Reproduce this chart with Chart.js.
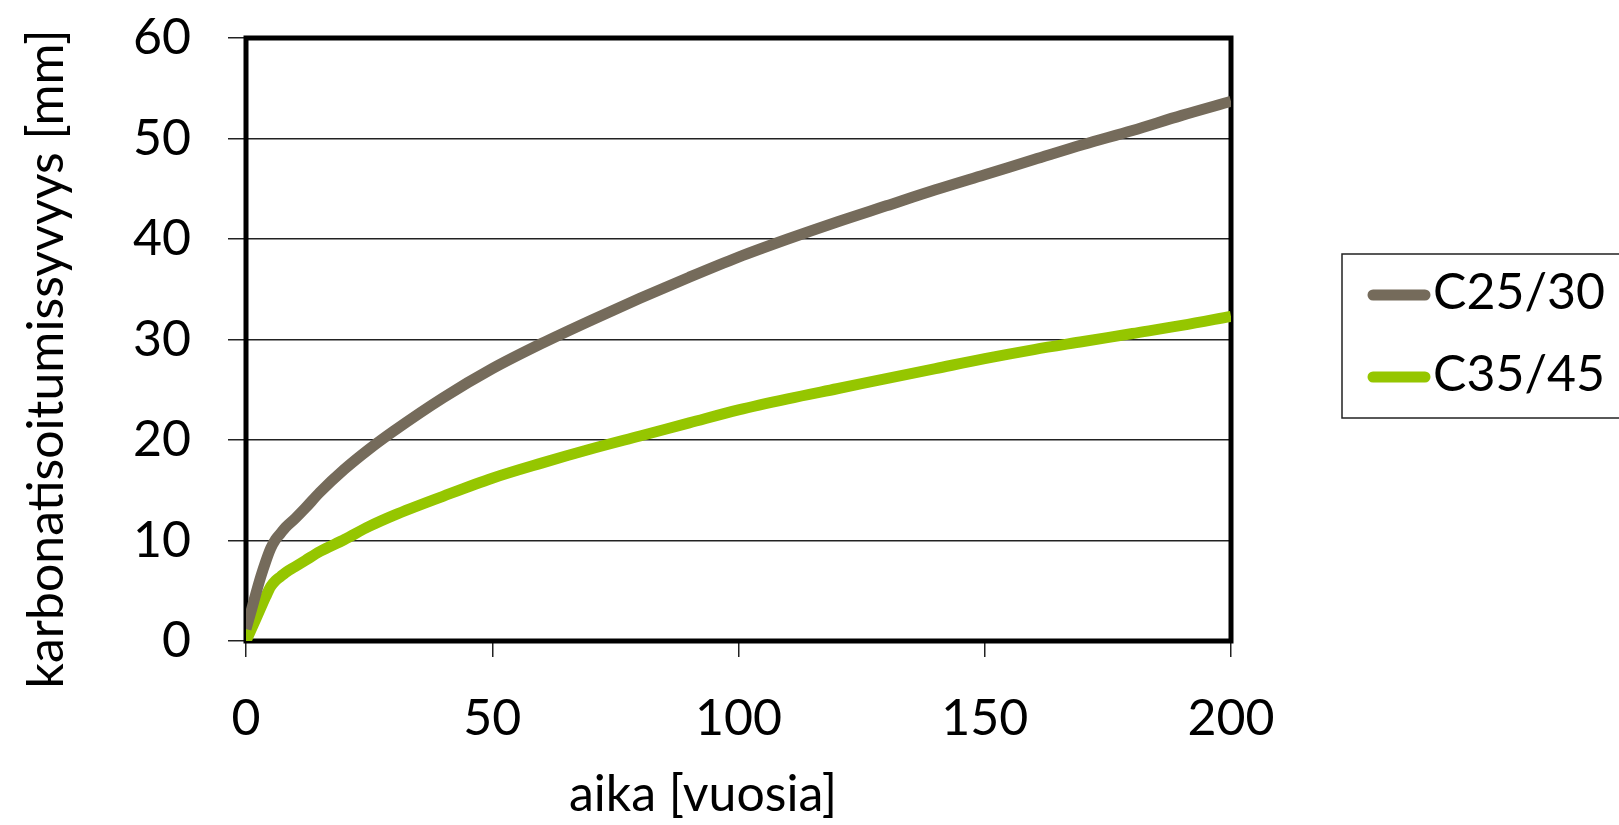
<!DOCTYPE html>
<html>
<head>
<meta charset="utf-8">
<script src="https://cdn.jsdelivr.net/npm/chart.js@4"></script>
<style>
    html, body { margin: 0; padding: 0; background: #fff; }
    canvas { display: block; }
</style>
</head>
<body>
<canvas id="carbChart" width="1619" height="825"></canvas>
<script>
// aika [vuosia]
const years = [0, 1, 2, 3, 4, 5, 6, 7, 8, 10, 12, 15, 20, 25, 30, 40, 50, 60, 70, 80, 90,
    100, 110, 120, 130, 140, 150, 160, 170, 180, 190, 200];

// karbonatisoitumissyvyys [mm]
const c2530 = [1.2, 2.9, 4.7, 6.4, 7.9, 9.2, 10.1, 10.7, 11.3, 12.2, 13.2, 14.8, 17.1, 19.1, 20.9,
    24.2, 27.1, 29.6, 31.9, 34.1, 36.2, 38.2, 40.0, 41.7, 43.3, 44.9, 46.4, 47.9, 49.4, 50.8, 52.3, 53.7];
const c3545 = [0.0, 1.1, 2.2, 3.3, 4.4, 5.4, 6.0, 6.4, 6.8, 7.4, 8.0, 8.9, 10.1, 11.4, 12.5,
    14.4, 16.2, 17.7, 19.1, 20.4, 21.7, 23.0, 24.1, 25.1, 26.1, 27.1, 28.1, 29.0, 29.8, 30.6, 31.4, 32.3];

const seriesNames = ['C25/30', 'C35/45'];
const seriesColors = ['#756b5b', '#95c600'];

const xTicks = [0, 50, 100, 150, 200];
const yTicks = [0, 10, 20, 30, 40, 50, 60];

const xTitle = 'aika [vuosia]';
const yTitle = 'karbonatisoitumissyvyys [mm]';

const FONT = 'Lato, "Open Sans", sans-serif';

function toPoints(values) {
    return values.map((v, i) => ({ x: years[i], y: v }));
}

// plot frame drawn under the lines, like the Excel plot area border
const frame = {
    id: 'frame',
    beforeDatasetsDraw(chart) {
        const { ctx, chartArea: a } = chart;
        ctx.save();
        ctx.strokeStyle = '#000';
        ctx.lineWidth = 5;
        ctx.strokeRect(a.left, a.top, a.right - a.left, a.bottom - a.top);
        ctx.restore();
    }
};

// axis titles
const axisTitles = {
    id: 'axisTitles',
    afterDraw(chart) {
        const ctx = chart.ctx;
        ctx.save();
        ctx.fillStyle = '#000';
        ctx.font = '50px ' + FONT;
        ctx.textAlign = 'center';
        ctx.textBaseline = 'middle';
        ctx.fillText(xTitle, 703, 795);
        ctx.translate(47, 359);
        ctx.rotate(-Math.PI / 2);
        ctx.fillText(yTitle, 0, 0);
        ctx.restore();
    }
};

// boxed legend on the right
const boxLegend = {
    id: 'boxLegend',
    afterDraw(chart) {
        const ctx = chart.ctx;
        ctx.save();
        ctx.strokeStyle = '#222';
        ctx.lineWidth = 1.5;
        ctx.strokeRect(1342, 254, 290, 164);
        ctx.font = '50px ' + FONT;
        ctx.textAlign = 'left';
        ctx.textBaseline = 'middle';
        const rows = [295, 377];
        chart.data.datasets.forEach((ds, i) => {
            ctx.strokeStyle = ds.borderColor;
            ctx.lineWidth = 11;
            ctx.lineCap = 'round';
            ctx.beginPath();
            ctx.moveTo(1373, rows[i]);
            ctx.lineTo(1425, rows[i]);
            ctx.stroke();
            ctx.fillStyle = '#000';
            ctx.fillText(ds.label, 1433, rows[i] - 2);
        });
        ctx.restore();
    }
};

const ctx = document.getElementById('carbChart').getContext('2d');
const carbChart = new Chart(ctx, {
    type: 'line',
    data: {
        datasets: [
            {
                label: seriesNames[0],
                data: toPoints(c2530),
                borderColor: seriesColors[0],
                borderWidth: 11,
                pointRadius: 0,
                cubicInterpolationMode: 'monotone',
                fill: false
            },
            {
                label: seriesNames[1],
                data: toPoints(c3545),
                borderColor: seriesColors[1],
                borderWidth: 11,
                pointRadius: 0,
                cubicInterpolationMode: 'monotone',
                fill: false
            }
        ]
    },
    options: {
        responsive: false,
        animation: false,
        devicePixelRatio: 1,
        layout: {
            padding: { left: 0, top: 38, right: 388, bottom: 0 }
        },
        plugins: {
            legend: { display: false },
            tooltip: { enabled: false }
        },
        scales: {
            x: {
                type: 'linear',
                min: 0,
                max: 200,
                afterFit: s => {
                    s.height = 184;
                    s.paddingLeft = 0;
                    s.paddingRight = 0;
                },
                afterBuildTicks: s => { s.ticks = xTicks.map(v => ({ value: v })); },
                ticks: {
                    color: '#000',
                    padding: 32,
                    maxRotation: 0,
                    font: { family: FONT, size: 50 }
                },
                grid: {
                    drawOnChartArea: false,
                    drawTicks: true,
                    tickLength: 16,
                    color: '#222',
                    lineWidth: 1.5
                },
                border: { display: false }
            },
            y: {
                min: 0,
                max: 60,
                afterFit: s => {
                    s.width = 246;
                    s.paddingTop = 0;
                    s.paddingBottom = 0;
                },
                afterBuildTicks: s => { s.ticks = yTicks.map(v => ({ value: v })); },
                ticks: {
                    color: '#000',
                    padding: 37,
                    font: { family: FONT, size: 50 }
                },
                grid: {
                    color: '#222',
                    lineWidth: 1.5,
                    tickLength: 18
                },
                border: { display: false }
            }
        }
    },
    plugins: [frame, axisTitles, boxLegend]
});
</script>
</body>
</html>
